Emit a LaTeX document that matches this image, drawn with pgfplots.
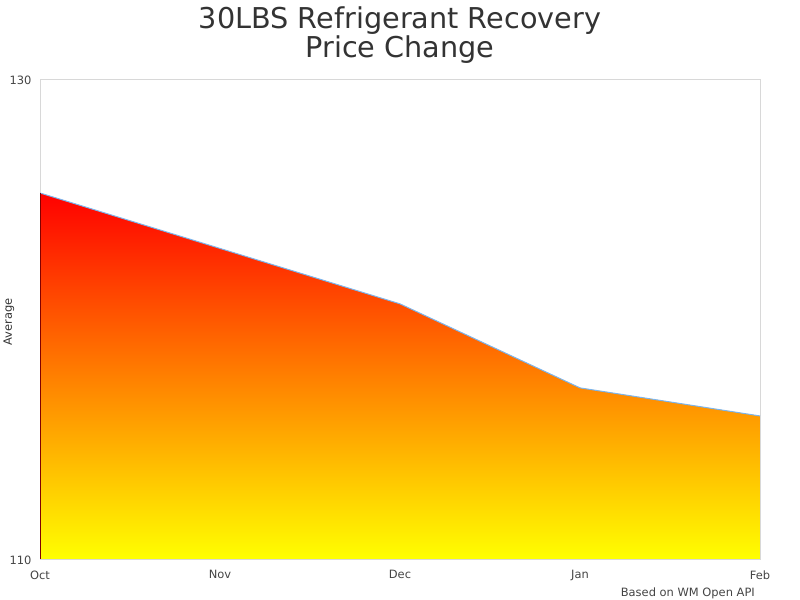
\documentclass[border=0pt]{standalone}
\usepackage{pgfplots}
\pgfplotsset{compat=1.18}
\usepackage{fontspec}
\setmainfont{DejaVu Sans}
\definecolor{linecol}{HTML}{7CB5EC}
\definecolor{txt}{HTML}{333333}
\definecolor{ticktxt}{HTML}{444444}
\definecolor{bord}{HTML}{D8D8D8}
\begin{document}
\begin{tikzpicture}[x=1bp,y=1bp]
\path[use as bounding box] (0,0) rectangle (800,600);
\begin{axis}[
  at={(40bp,41bp)}, anchor=south west,
  width=720bp, height=480bp, scale only axis,
  xmin=0, xmax=4, ymin=110, ymax=130,
  xtick={0,1,2,3,4}, xticklabels={Oct,Nov,Dec,Jan,Feb},
  ytick={110,130},
  axis line style={bord},
  tick style={draw=none},
  /pgf/number format/assume math mode=true,
  ticklabel style={font=\fontsize{11.5}{13}\selectfont, text=ticktxt},
  yticklabel style={xshift=-5bp, yshift=-1bp},
  xticklabel style={yshift=-8bp},
]
\addplot[draw=none, top color=red, bottom color=yellow] coordinates {
 (0,125.25) (1,122.94) (2,120.63) (3,117.13) (4,115.96) (4,110) (0,110)};
\addplot[linecol, line width=1bp, mark=none] coordinates {
 (0,125.25) (1,122.94) (2,120.63) (3,117.13) (4,115.96)};
\addplot[red!50!black, line width=0.8bp, mark=none] coordinates {(0,110) (0,125.25)};
\end{axis}
\node[anchor=base, text=txt, font=\fontsize{28.8}{32}\selectfont] at (400,571) {30LBS Refrigerant Recovery};
\node[anchor=base, text=txt, font=\fontsize{28.8}{32}\selectfont] at (400,542) {Price Change};
\node[rotate=90, text=txt, font=\fontsize{11.5}{13}\selectfont] at (9,278) {Average};
\node[anchor=base east, text=ticktxt, font=\fontsize{11.5}{13}\selectfont, inner sep=0pt] at (755,3) {Based on WM Open API};
\end{tikzpicture}
\end{document}
